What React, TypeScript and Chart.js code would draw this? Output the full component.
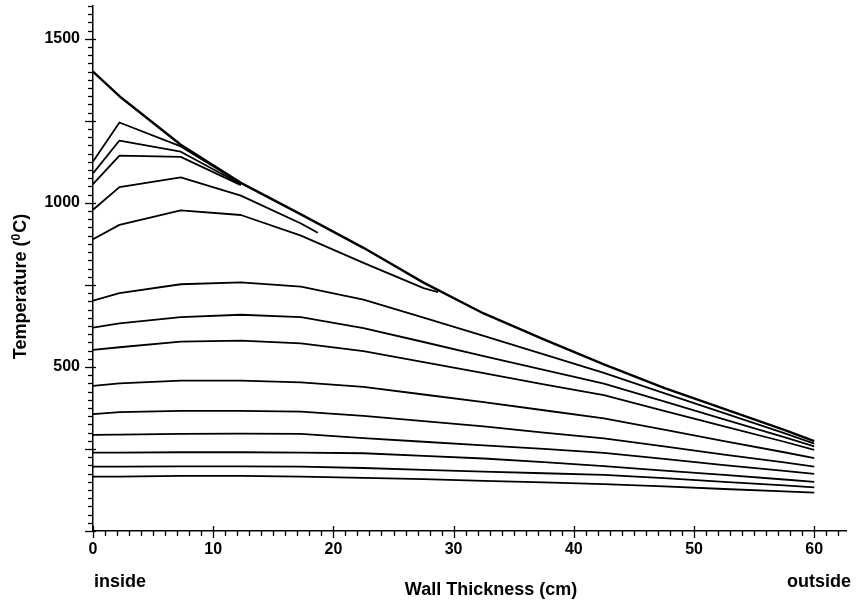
import React, { useEffect, useRef } from "react";
import { Chart, registerables } from "chart.js";

Chart.register(...registerables);

// Wall positions (cm) where the profiles are sampled
const xNodes = [0, 2.2, 7.3, 12.3, 17.3, 22.5, 27.5, 32.5, 37.5, 42.5, 47.5, 52.5, 57.5, 60];
const xCurve5 = [0, 2.2, 7.3, 12.3, 17.3, 18.7];
const xCurve6 = [0, 2.2, 7.3, 12.3, 17.3, 22.5, 27.5, 28.7];

// Temperature profiles (°C)
const t01 = [1400, 1325, 1177, 1061, 965, 863, 757, 663, 584, 508, 436, 372, 308, 274];
const t02 = [1126, 1245, 1172, 1060];
const t03 = [1090, 1190, 1156, 1057];
const t04 = [1057, 1144, 1140, 1054];
const t05 = [979, 1048, 1078, 1022, 937, 909];
const t06 = [889, 933, 977, 963, 900, 817, 740, 728];
const t07 = [702, 725, 752, 758, 745, 705, 650, 595, 538, 482, 420, 359, 298, 266];
const t08 = [620, 633, 652, 659, 652, 618, 576, 533, 491, 449, 395, 340, 286, 258];
const t09 = [552, 560, 577, 580, 572, 548, 515, 481, 447, 414, 366, 319, 272, 247];
const t10 = [442, 450, 458, 458, 453, 439, 416, 393, 368, 343, 309, 274, 240, 222];
const t11 = [356, 362, 366, 366, 364, 351, 335, 319, 300, 282, 258, 233, 209, 196];
const t12 = [293, 294, 296, 297, 296, 283, 272, 261, 250, 238, 220, 201, 183, 174];
const t13 = [239, 239, 240, 240, 239, 237, 229, 221, 210, 198, 184, 171, 157, 150];
const t14 = [196, 196, 197, 197, 196, 192, 186, 181, 176, 171, 161, 150, 139, 133];
const t15 = [166, 166, 168, 168, 166, 162, 158, 153, 148, 143, 136, 128, 121, 117];

// Axis ticks
const xTickLabels = [0, 10, 20, 30, 40, 50, 60];
const yTickLabels = [500, 1000, 1500];
const xMinorStep = 1;
const xMajorStep = 10;
const yMinorStep = 25;
const yMajorStep = 250;
const X_MAX = 62.7;
const Y_MAX = 1600;

const FONT = "'Liberation Sans', Arial, Helvetica, sans-serif";

const toPoints = (xs: number[], ys: number[]) => ys.map((v, i) => ({ x: xs[i], y: v }));

const axisTicksPlugin = {
  id: "axisTicks",
  afterDraw(chart: any) {
    const { ctx, chartArea, scales } = chart;
    const xs = scales.x;
    const ys = scales.y;
    const left = chartArea.left;
    const bottom = chartArea.bottom;
    ctx.save();
    ctx.strokeStyle = "#000";
    ctx.lineWidth = 1.3;
    for (let v = 0; v <= Y_MAX + 0.001; v += yMinorStep) {
      const py = Math.round(ys.getPixelForValue(v)) + 0.5;
      const major = v % yMajorStep === 0;
      ctx.beginPath();
      ctx.moveTo(left - (major ? 8 : 5), py);
      ctx.lineTo(left + (major ? 3 : 0), py);
      ctx.stroke();
    }
    for (let v = 0; v <= X_MAX; v += xMinorStep) {
      const px = Math.round(xs.getPixelForValue(v)) + 0.5;
      const major = v % xMajorStep === 0;
      ctx.beginPath();
      ctx.moveTo(px, bottom - (major ? 5 : 0));
      ctx.lineTo(px, bottom + (major ? 7 : 5));
      ctx.stroke();
    }
    ctx.restore();
  },
};

const titlesPlugin = {
  id: "titles",
  afterDraw(chart: any) {
    const { ctx, chartArea, scales } = chart;
    const xs = scales.x;
    ctx.save();
    ctx.fillStyle = "#000";
    ctx.font = `bold 18px ${FONT}`;
    ctx.textBaseline = "alphabetic";
    // x-axis titles
    ctx.textAlign = "left";
    ctx.fillText("inside", xs.getPixelForValue(0) + 1, 587);
    ctx.textAlign = "center";
    ctx.fillText("Wall Thickness (cm)", 491, 595);
    ctx.textAlign = "right";
    ctx.fillText("outside", 851, 587);

    // y-axis title with superscript
    const part1 = "Temperature (";
    const sup = "0";
    const part2 = "C)";
    ctx.font = `bold 18px ${FONT}`;
    const w1 = ctx.measureText(part1).width;
    const w3 = ctx.measureText(part2).width;
    ctx.font = `bold 12px ${FONT}`;
    const w2 = ctx.measureText(sup).width + 1;
    const total = w1 + w2 + w3;
    const cy = (chartArea.top + chartArea.bottom) / 2 + 18;
    ctx.translate(26, cy);
    ctx.rotate(-Math.PI / 2);
    ctx.textAlign = "left";
    let x = -total / 2;
    ctx.font = `bold 18px ${FONT}`;
    ctx.fillText(part1, x, 0);
    x += w1;
    ctx.font = `bold 12px ${FONT}`;
    ctx.fillText(sup, x, -6);
    x += w2;
    ctx.font = `bold 18px ${FONT}`;
    ctx.fillText(part2, x, 0);
    ctx.restore();
  },
};

export default function App() {
  const canvasRef = useRef<HTMLCanvasElement | null>(null);

  useEffect(() => {
    document.body.style.margin = "0";
    const canvas = canvasRef.current;
    if (!canvas) return;

    const series: { xs: number[]; ys: number[]; w: number }[] = [
      { xs: xNodes, ys: t01, w: 2.4 },
      { xs: xNodes, ys: t02, w: 1.8 },
      { xs: xNodes, ys: t03, w: 1.8 },
      { xs: xNodes, ys: t04, w: 1.8 },
      { xs: xCurve5, ys: t05, w: 1.8 },
      { xs: xCurve6, ys: t06, w: 1.8 },
      { xs: xNodes, ys: t07, w: 1.8 },
      { xs: xNodes, ys: t08, w: 1.8 },
      { xs: xNodes, ys: t09, w: 1.8 },
      { xs: xNodes, ys: t10, w: 1.8 },
      { xs: xNodes, ys: t11, w: 1.8 },
      { xs: xNodes, ys: t12, w: 1.8 },
      { xs: xNodes, ys: t13, w: 1.8 },
      { xs: xNodes, ys: t14, w: 1.8 },
      { xs: xNodes, ys: t15, w: 1.8 },
    ];

    const chart = new Chart(canvas, {
      type: "line",
      data: {
        datasets: series.map((s, i) => ({
          label: `profile ${i + 1}`,
          data: toPoints(s.xs, s.ys),
          borderColor: "#000",
          borderWidth: s.w,
          pointRadius: 0,
          tension: 0,
          fill: false,
          borderJoinStyle: "round",
        })),
      },
      options: {
        responsive: false,
        animation: false,
        events: [],
        layout: { padding: { top: 6, right: 11.3, left: 0, bottom: 0 } },
        plugins: {
          legend: { display: false },
          tooltip: { enabled: false },
          title: { display: false },
        },
        scales: {
          x: {
            type: "linear",
            min: 0,
            max: X_MAX,
            afterFit: (scale: any) => {
              scale.height = 74;
              scale.paddingLeft = 0;
              scale.paddingRight = 0;
            },
            afterBuildTicks: (scale: any) => {
              scale.ticks = xTickLabels.map((v) => ({ value: v }));
            },
            grid: { display: false, drawTicks: false },
            border: { display: true, color: "#000", width: 1.5 },
            ticks: {
              color: "#000",
              padding: 9,
              autoSkip: false,
              maxRotation: 0,
              font: { family: FONT, size: 16, weight: "bold" },
              callback: (v: any) => String(v),
            },
          },
          y: {
            type: "linear",
            min: 0,
            max: Y_MAX,
            afterFit: (scale: any) => {
              scale.width = 93;
              scale.paddingTop = 0;
              scale.paddingBottom = 0;
            },
            afterBuildTicks: (scale: any) => {
              scale.ticks = yTickLabels.map((v) => ({ value: v }));
            },
            grid: { display: false, drawTicks: false },
            border: { display: true, color: "#000", width: 1.5 },
            ticks: {
              color: "#000",
              padding: 13,
              autoSkip: false,
              font: { family: FONT, size: 16, weight: "bold" },
              callback: (v: any) => String(v),
            },
          },
        },
      },
      plugins: [axisTicksPlugin, titlesPlugin],
    });

    return () => {
      chart.destroy();
    };
  }, []);

  return (
    <canvas
      ref={canvasRef}
      width={858}
      height={605}
      style={{ display: "block", width: 858, height: 605 }}
    />
  );
}
